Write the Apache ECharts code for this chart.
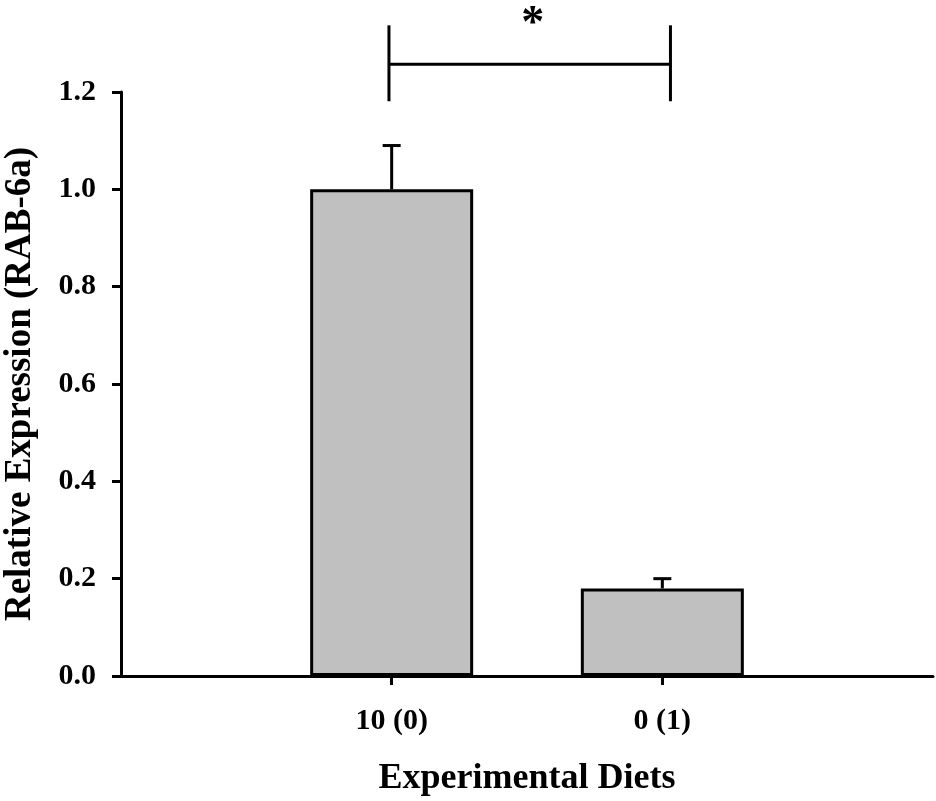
<!DOCTYPE html>
<html>
<head>
<meta charset="utf-8">
<script src="https://cdn.jsdelivr.net/npm/echarts@6/dist/echarts.min.js"></script>
<style>
  html, body { margin: 0; padding: 0; background: #fff; }
  #chart { width: 936px; height: 801px; }
</style>
</head>
<body>
<div id="chart"></div>
<script>
// ---- data ----
const categories = ['10 (0)', '0 (1)'];
const categoryPos = [1, 2];
const means = [1.0, 0.18];
const errorTops = [1.09, 0.20];
const yTicks = [0, 0.2, 0.4, 0.6, 0.8, 1.0, 1.2];
// significance bracket: [xLeft, xRight], [yBottom, yBar, yTop]
const bracketX = [0.99, 2.03];
const bracketY = [1.181, 1.257, 1.337];
const sigLabel = '*';

const FONT = "'Liberation Serif', 'Times New Roman', serif";

const chart = echarts.init(document.getElementById('chart'), null, { renderer: 'canvas' });

const barData = categoryPos.map((x, i) => [x, means[i]]);
const errData = categoryPos.map((x, i) => [x, means[i], errorTops[i]]);

const option = {
  backgroundColor: '#ffffff',
  animation: false,
  grid: { left: 121, right: 3, top: 92, bottom: 125, containLabel: false, outerBoundsMode: 'none' },
  xAxis: {
    type: 'value',
    min: 0, max: 3, interval: 1,
    name: 'Experimental Diets',
    nameLocation: 'middle',
    nameGap: 85,
    nameTextStyle: { fontFamily: FONT, fontWeight: 'bold', fontSize: 36, color: '#000' },
    axisLine: { show: true, onZero: false, lineStyle: { color: '#000', width: 3 } },
    axisTick: { show: true, length: 9, inside: false, customValues: categoryPos, lineStyle: { color: '#000', width: 3 } },
    axisLabel: {
      show: true, margin: 30, customValues: categoryPos,
      fontFamily: FONT, fontWeight: 'bold', fontSize: 30, color: '#000',
      formatter: v => { const i = categoryPos.indexOf(v); return i >= 0 ? categories[i] : ''; }
    },
    splitLine: { show: false }
  },
  yAxis: {
    type: 'value',
    min: 0, max: 1.2, interval: 0.2,
    name: 'Relative Expression (RAB-6a)',
    nameLocation: 'middle',
    nameGap: 82,
    nameTextStyle: { fontFamily: FONT, fontWeight: 'bold', fontSize: 37, color: '#000' },
    axisLine: { show: true, lineStyle: { color: '#000', width: 3 } },
    axisTick: { show: true, length: 9, inside: false, lineStyle: { color: '#000', width: 3 } },
    axisLabel: {
      margin: 25, fontFamily: FONT, fontWeight: 'bold', fontSize: 30, color: '#000',
      formatter: v => v.toFixed(1)
    },
    splitLine: { show: false }
  },
  series: [
    {
      type: 'bar',
      data: barData,
      barWidth: 163,
      itemStyle: { color: '#c0c0c0', borderColor: '#000', borderWidth: 3 },
      z: 2
    },
    {
      type: 'custom',
      data: errData,
      z: 3,
      renderItem: function (params, api) {
        const x = api.value(0);
        const pTop = api.coord([x, api.value(2)]);
        const pBase = api.coord([x, api.value(1)]);
        const half = 9;
        const st = { stroke: '#000', lineWidth: 3 };
        return {
          type: 'group',
          children: [
            { type: 'line', shape: { x1: pBase[0], y1: pBase[1], x2: pTop[0], y2: pTop[1] }, style: st },
            { type: 'line', shape: { x1: pTop[0] - half, y1: pTop[1], x2: pTop[0] + half, y2: pTop[1] }, style: st }
          ]
        };
      }
    },
    {
      type: 'custom',
      data: [[bracketX[0], bracketX[1], bracketY[0], bracketY[1], bracketY[2]]],
      z: 3,
      clip: false,
      renderItem: function (params, api) {
        const x1 = api.value(0), x2 = api.value(1);
        const yb = api.value(2), ym = api.value(3), yt = api.value(4);
        const a = api.coord([x1, yb]), b = api.coord([x1, yt]);
        const c = api.coord([x2, yb]), d = api.coord([x2, yt]);
        const m1 = api.coord([x1, ym]), m2 = api.coord([x2, ym]);
        const st = { stroke: '#000', lineWidth: 3 };
        const mid = api.coord([(x1 + x2) / 2, yt]);
        return {
          type: 'group',
          children: [
            { type: 'line', shape: { x1: a[0], y1: a[1], x2: b[0], y2: b[1] }, style: st },
            { type: 'line', shape: { x1: c[0], y1: c[1], x2: d[0], y2: d[1] }, style: st },
            { type: 'line', shape: { x1: m1[0], y1: m1[1], x2: m2[0], y2: m2[1] }, style: st },
            {
              type: 'text',
              style: {
                text: sigLabel, x: mid[0] + 3, y: mid[1],
                align: 'center', verticalAlign: 'middle',
                font: 'bold 46px ' + FONT, fill: '#000'
              }
            }
          ]
        };
      }
    }
  ]
};

chart.setOption(option);
</script>
</body>
</html>
